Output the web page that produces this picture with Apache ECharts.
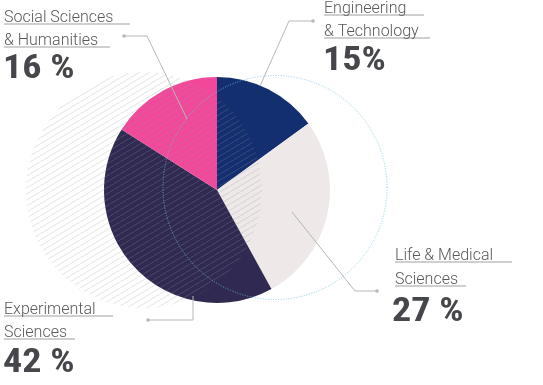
<!DOCTYPE html>
<html>
<head>
<meta charset="utf-8">
<script src="https://cdn.jsdelivr.net/npm/echarts@6/dist/echarts.min.js"></script>
<style>
html,body{margin:0;padding:0;background:#fff;}
#main{width:543px;height:385px;}
</style>
</head>
<body>
<div id="main"></div>
<script>
// ---- data ----
const categories = ['Engineering & Technology', 'Life & Medical Sciences', 'Experimental Sciences', 'Social Sciences & Humanities'];
const nameLines = [['Engineering', '& Technology'], ['Life & Medical', 'Sciences'], ['Experimental', 'Sciences'], ['Social Sciences', '& Humanities']];
const values = [15, 27, 42, 16];
const percentLabels = ['15%', '27 %', '42 %', '16 %'];

// ---- styles / layout ----
const colors = ['#142f6f', '#eee8e8', '#302a52', '#f2489b'];
const cx = 217, cy = 190, R = 113;
const labelPos = [
  {x: 324, px: 323, b1: 14, b2: 37, bp: 74, u1: 100, u2: 106, leader: [[260, 86], [289, 21], [313, 21]]},
  {x: 395, px: 392, b1: 261, b2: 285, bp: 325, u1: 117, u2: 71, leader: [[292, 212], [355, 291], [377, 291]]},
  {x: 4, px: 3, b1: 315, b2: 338, bp: 376, u1: 109, u2: 71, leader: [[193, 296], [193, 320], [148, 320]]},
  {x: 4, px: 3, b1: 23, b2: 46, bp: 82, u1: 126, u2: 106, leader: [[187, 119], [147, 36], [124, 36]]}
];
const nameFont = '300 16px Roboto, "Noto Sans", sans-serif';
const pctFont = 'bold 34px "Roboto Condensed", "Liberation Sans Narrow", "DejaVu Sans Condensed", sans-serif';

// hatch pattern
const pc = document.createElement('canvas');
pc.width = 10; pc.height = 6;
const pctx = pc.getContext('2d');
pctx.strokeStyle = 'rgba(150,150,150,0.28)';
pctx.lineWidth = 1;
pctx.beginPath();
pctx.moveTo(-10, 6); pctx.lineTo(0, 0);
pctx.moveTo(0, 6); pctx.lineTo(10, 0);
pctx.moveTo(10, 6); pctx.lineTo(20, 0);
pctx.stroke();

const elements = [];
elements.push({type: 'circle', silent: true, z: 10, shape: {cx: cx - 73, cy: cy, r: 118},
  style: {fill: {image: pc, repeat: 'repeat'}}});
elements.push({type: 'circle', silent: true, z: 11, shape: {cx: cx + 58, cy: cy - 2.5, r: 112},
  style: {fill: null, stroke: 'rgba(110,195,222,0.8)', lineWidth: 1, lineDash: [1, 1.6]}});

labelPos.forEach((p, i) => {
  elements.push({type: 'polyline', silent: true, z: 12, shape: {points: p.leader},
    style: {fill: null, stroke: '#b8b8b8', lineWidth: 1}});
  const end = p.leader[p.leader.length - 1];
  elements.push({type: 'circle', silent: true, z: 12, shape: {cx: end[0], cy: end[1], r: 1.8},
    style: {fill: '#b8b8b8'}});
  [[nameLines[i][0], p.b1, p.u1], [nameLines[i][1], p.b2, p.u2]].forEach(([t, b, u]) => {
    elements.push({type: 'rect', silent: true, z: 12, shape: {x: p.x, y: b, width: u, height: 2},
      style: {fill: '#cfcfcf'}});
    elements.push({type: 'text', silent: true, z: 13, x: p.x, y: b - 4.6,
      style: {text: t, font: nameFont, fill: '#58595b', verticalAlign: 'middle', align: 'left'}});
  });
  elements.push({type: 'text', silent: true, z: 13, x: p.px, y: p.bp - 12.2, scaleX: 1.12,
    style: {text: percentLabels[i], font: pctFont, fill: '#45474b', verticalAlign: 'middle', align: 'left'}});
});

const chart = echarts.init(document.getElementById('main'), null, {renderer: 'canvas'});
chart.setOption({
  animation: false,
  series: [{
    type: 'pie',
    center: [cx, cy],
    radius: R,
    startAngle: 90,
    clockwise: true,
    silent: true,
    label: {show: false},
    labelLine: {show: false},
    itemStyle: {borderWidth: 0},
    emphasis: {disabled: true},
    data: categories.map((n, i) => ({name: n, value: values[i], itemStyle: {color: colors[i]}}))
  }],
  graphic: {elements: elements}
});
</script>
</body>
</html>
